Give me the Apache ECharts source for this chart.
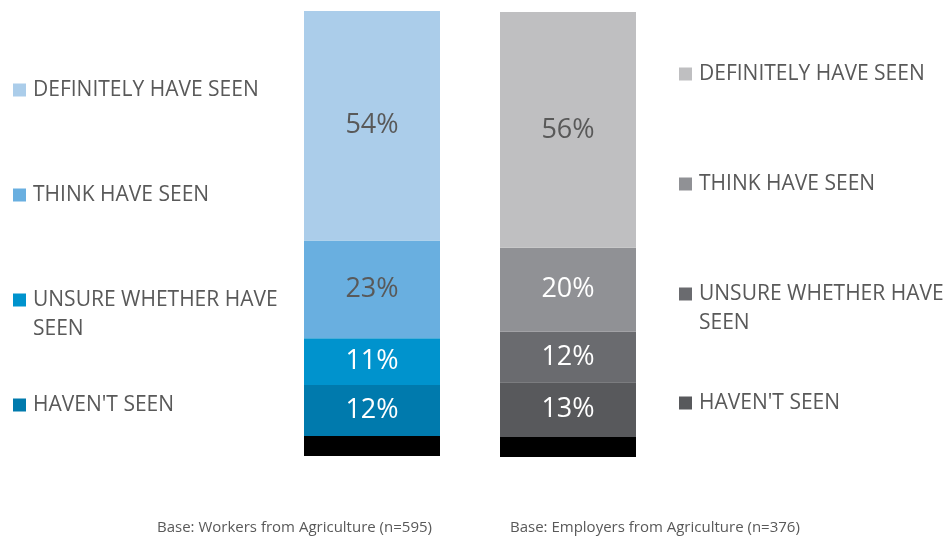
<!DOCTYPE html>
<html>
<head>
<meta charset="utf-8">
<script src="https://cdn.jsdelivr.net/npm/echarts@6/dist/echarts.min.js"></script>
<style>
  html, body { margin: 0; padding: 0; background: #fff; }
  #container { width: 945px; height: 537px; }
</style>
</head>
<body>
<div id="container"></div>
<script>
// answers, top of the stack first
const answers = ["DEFINITELY HAVE SEEN", "THINK HAVE SEEN", "UNSURE WHETHER HAVE SEEN", "HAVEN'T SEEN"];
const workers = [54, 23, 11, 12];
const employers = [56, 20, 12, 13];
const baseBand = [4.7, 4.75]; // black strip under each bar
const groups = ["Base: Workers from Agriculture (n=595)", "Base: Employers from Agriculture (n=376)"];

const blues = ['#ABCDEA', '#69AFE0', '#0093CD', '#007AAD'];
const greys = ['#BFBFC1', '#909195', '#6A6B6F', '#58595C'];
const workerLabelColors = ['#595959', '#595959', '#fff', '#fff'];
const employerLabelColors = ['#595959', '#fff', '#fff', '#fff'];

const textGrey = '#595959';
const font = 'Open Sans';

var dom = document.getElementById('container');
var myChart = echarts.init(dom, null, { renderer: 'canvas' });

function barSeries(prefix, values, colors, labelColors, axisIndex, base) {
    var list = [];
    list.push({
        name: prefix + ':base',
        type: 'bar',
        stack: prefix,
        xAxisIndex: axisIndex,
        yAxisIndex: axisIndex,
        barWidth: '100%',
        itemStyle: { color: '#000' },
        data: [base],
        silent: true
    });
    // stack from the bottom answer up
    for (let i = values.length - 1; i >= 0; i--) {
        list.push({
            name: prefix + ':' + answers[i],
            type: 'bar',
            stack: prefix,
            xAxisIndex: axisIndex,
            yAxisIndex: axisIndex,
            barWidth: '100%',
            itemStyle: { color: colors[i] },
            label: {
                show: true,
                position: 'inside',
                formatter: '{c}%',
                color: labelColors[i],
                fontSize: 27,
                fontFamily: font
            },
            data: [values[i]]
        });
    }
    return list;
}

// one legend per item so each can sit where it is in the picture
function legends(prefix, left, centers) {
    return answers.map(function(a, i) {
        const twoLines = a === "UNSURE WHETHER HAVE SEEN";
        const off = twoLines ? 43.5 : 14.5;
        return {
            data: [prefix + ':' + a],
            left: left,
            top: centers[i] - off + 2,
            orient: 'vertical',
            padding: 0,
            itemWidth: 13,
            itemHeight: 13,
            itemGap: 0,
            icon: 'rect',
            selectedMode: false,
            formatter: function() {
                return twoLines ? '\nUNSURE WHETHER HAVE\nSEEN' : a;
            },
            textStyle: {
                color: textGrey,
                fontSize: 21,
                fontFamily: font,
                lineHeight: 29,
                padding: [0, 0, 0, 2]
            }
        };
    });
}

var option = {
    animation: false,
    title: [
        { text: groups[0], left: 152, top: 515, textStyle: { color: textGrey, fontSize: 15, fontWeight: 'normal', fontFamily: font } },
        { text: groups[1], left: 505, top: 515, textStyle: { color: textGrey, fontSize: 15, fontWeight: 'normal', fontFamily: font } }
    ],
    legend: legends('w', 13, [88, 193, 298, 403]).concat(legends('e', 679, [72, 182, 292, 401])),
    grid: [
        { left: 304, width: 136, top: 11, height: 445 },
        { left: 500, width: 136, top: 12, height: 445 }
    ],
    xAxis: [
        { gridIndex: 0, type: 'category', data: ['w'], show: false },
        { gridIndex: 1, type: 'category', data: ['e'], show: false }
    ],
    yAxis: [
        { gridIndex: 0, type: 'value', min: 0, max: 'dataMax', show: false },
        { gridIndex: 1, type: 'value', min: 0, max: 'dataMax', show: false }
    ],
    series: barSeries('w', workers, blues, workerLabelColors, 0, baseBand[0])
        .concat(barSeries('e', employers, greys, employerLabelColors, 1, baseBand[1]))
};

myChart.setOption(option);
window.addEventListener('resize', myChart.resize);
</script>
</body>
</html>
